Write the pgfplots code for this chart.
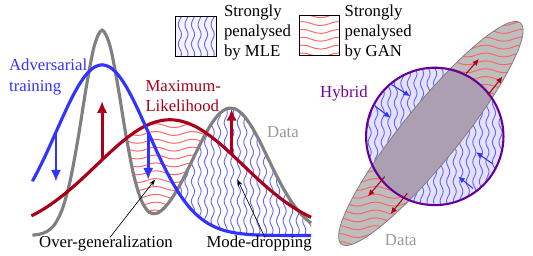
\documentclass[border=0pt]{standalone}
\usepackage{pgfplots}
\pgfplotsset{compat=1.18}
\usepgfplotslibrary{fillbetween}
\usetikzlibrary{arrows.meta,patterns}
\usepackage{fontspec}
\setmainfont{Liberation Serif}
\definecolor{cgray}{RGB}{128,128,128}
\definecolor{cblue}{RGB}{51,51,255}
\definecolor{cred}{RGB}{170,0,24}
\definecolor{hred}{RGB}{255,100,100}
\definecolor{hblue}{RGB}{100,100,255}
\definecolor{cpurple}{RGB}{100,0,150}
\definecolor{tpurple}{RGB}{119,0,153}
\definecolor{egray}{RGB}{190,190,190}
\definecolor{inter}{RGB}{171,159,177}
\definecolor{lav}{RGB}{228,225,252}
\pgfdeclarepatternformonly{wavesH}{\pgfqpoint{-1pt}{-1pt}}{\pgfqpoint{29pt}{7pt}}{\pgfqpoint{28pt}{6pt}}{%
  \pgfsetlinewidth{0.75pt}%
  \pgfpathmoveto{\pgfqpoint{0pt}{3pt}}%
  \pgfpathcurveto{\pgfqpoint{4.67pt}{5pt}}{\pgfqpoint{9.33pt}{5pt}}{\pgfqpoint{14pt}{3pt}}%
  \pgfpathcurveto{\pgfqpoint{18.67pt}{1pt}}{\pgfqpoint{23.33pt}{1pt}}{\pgfqpoint{28pt}{3pt}}%
  \pgfusepath{stroke}}
\pgfdeclarepatternformonly{wavesV}{\pgfqpoint{-1pt}{-1pt}}{\pgfqpoint{6pt}{16pt}}{\pgfqpoint{5pt}{15pt}}{%
  \pgfsetlinewidth{0.7pt}%
  \pgfpathmoveto{\pgfqpoint{2.5pt}{0pt}}%
  \pgfpathcurveto{\pgfqpoint{4.1pt}{2.5pt}}{\pgfqpoint{4.1pt}{5pt}}{\pgfqpoint{2.5pt}{7.5pt}}%
  \pgfpathcurveto{\pgfqpoint{0.9pt}{10pt}}{\pgfqpoint{0.9pt}{12.5pt}}{\pgfqpoint{2.5pt}{15pt}}%
  \pgfusepath{stroke}}
\begin{document}
\fontsize{12.8pt}{15.4pt}\selectfont
\begin{tikzpicture}
\begin{axis}[x=0.75pt,y=0.75pt,xmin=0,xmax=533,ymin=0,ymax=260,
  hide axis,clip=false,scale only axis]
\path (axis cs:0,0) rectangle (axis cs:533,260);
% data curves
\addplot[name path=gray,draw=none,forget plot] coordinates {
(33,20.4)(40,21.3)(48,24.2)(56,31.7)(64,48.3)(72,78.1)(80,121.7)(88,171.8)(96,213.1)(104,229.3)
(112,213.6)(120,173.1)(128,124.2)(136,82.5)(144,55.7)(152,43.7)(160,42.7)(168,48.8)(176,59.2)
(184,72.8)(192,88.5)(200,105.1)(208,121.0)(216,134.7)(224,144.7)(232,149.6)(240,148.9)(248,142.6)
(256,131.6)(264,117.2)(272,100.9)(280,84.5)(288,69.2)(296,55.9)(304,45.0)(312,36.7)(317,32.7)};
\addplot[name path=blue,draw=none,forget plot] coordinates {
(33,75.3)(40,88.6)(48,105.3)(56,123.1)(64,140.9)(72,157.9)(80,172.7)(88,184.2)(96,191.5)(104,194)
(112,191.5)(120,184.2)(128,172.7)(136,157.9)(144,140.9)(152,123.1)(160,105.3)(168,88.6)(176,73.6)
(184,60.6)(192,49.9)(200,41.4)(208,34.9)(216,30.1)(224,26.6)(232,24.2)(240,22.6)(248,21.6)
(256,20.9)(264,20.5)(272,20.3)(280,20.2)(288,20.1)(296,20.0)(304,20.0)(312,20.0)(317,20.0)};
\addplot[name path=red,draw=none,forget plot] coordinates {
(32,40.0)(40,44.3)(48,49.2)(56,54.8)(64,60.9)(72,67.5)(80,74.5)(88,81.9)(96,89.5)(104,97.1)
(112,104.6)(120,111.8)(128,118.5)(136,124.4)(144,129.5)(152,133.4)(160,136.2)(168,137.7)(176,137.9)
(184,136.7)(192,134.3)(200,130.6)(208,125.8)(216,120.0)(224,113.6)(232,106.5)(240,99.0)(248,91.4)
(256,83.8)(264,76.3)(272,69.2)(280,62.5)(288,56.2)(296,50.6)(304,45.5)(312,41.0)(317,38.6)};
% hatched regions
\addplot[pattern=wavesH,pattern color=hred,draw=none,forget plot]
  fill between[of=red and gray,soft clip={domain=129:210}];
\addplot[pattern=wavesV,pattern color=hblue,draw=none,forget plot]
  fill between[of=gray and blue,soft clip={domain=180:317}];
% visible curves
\addplot[cgray,line width=2.4pt,smooth] coordinates {
(33,20.4)(40,21.3)(48,24.2)(56,31.7)(64,48.3)(72,78.1)(80,121.7)(88,171.8)(96,213.1)(104,229.3)
(112,213.6)(120,173.1)(128,124.2)(136,82.5)(144,55.7)(152,43.7)(160,42.7)(168,48.8)(176,59.2)
(184,72.8)(192,88.5)(200,105.1)(208,121.0)(216,134.7)(224,144.7)(232,149.6)(240,148.9)(248,142.6)
(256,131.6)(264,117.2)(272,100.9)(280,84.5)(288,69.2)(296,55.9)(304,45.0)(312,36.7)(317,32.7)};
\addplot[cred,line width=2.4pt,smooth] coordinates {
(32,40.0)(40,44.3)(48,49.2)(56,54.8)(64,60.9)(72,67.5)(80,74.5)(88,81.9)(96,89.5)(104,97.1)
(112,104.6)(120,111.8)(128,118.5)(136,124.4)(144,129.5)(152,133.4)(160,136.2)(168,137.7)(176,137.9)
(184,136.7)(192,134.3)(200,130.6)(208,125.8)(216,120.0)(224,113.6)(232,106.5)(240,99.0)(248,91.4)
(256,83.8)(264,76.3)(272,69.2)(280,62.5)(288,56.2)(296,50.6)(304,45.5)(312,41.0)(317,38.6)};
\addplot[cblue,line width=2.4pt,smooth] coordinates {
(33,75.3)(40,88.6)(48,105.3)(56,123.1)(64,140.9)(72,157.9)(80,172.7)(88,184.2)(96,191.5)(104,194)
(112,191.5)(120,184.2)(128,172.7)(136,157.9)(144,140.9)(152,123.1)(160,105.3)(168,88.6)(176,73.6)
(184,60.6)(192,49.9)(200,41.4)(208,34.9)(216,30.1)(224,26.6)(232,24.2)(240,22.6)(248,21.6)
(256,20.9)(264,20.5)(272,20.3)(280,20.2)(288,20.1)(296,20.0)(304,20.0)(312,20.0)(317,20.0)};
% arrows
\addplot[cblue,line width=2.2pt,-{Latex[length=9pt,width=8pt]}] coordinates {(57,125)(57,75)};
\addplot[cblue,line width=2.2pt,-{Latex[length=9pt,width=8pt]}] coordinates {(151,125)(151,77)};
\addplot[cred,line width=2.2pt,-{Latex[length=9pt,width=8pt]}] coordinates {(104,97)(104,157)};
\addplot[cred,line width=2.2pt,-{Latex[length=9pt,width=8pt]}] coordinates {(236,103)(236,149)};
\addplot[black,line width=0.5pt,-{Stealth[length=5pt,width=3.5pt]}] coordinates {(112,18)(158,77)};
\addplot[black,line width=0.5pt,-{Stealth[length=5pt,width=3.5pt]}] coordinates {(270,18)(242,77)};
% labels
\node[anchor=west,align=left,text=cblue,inner sep=0pt] at (axis cs:9,181.5) {Adversarial\\training};
\node[anchor=west,align=left,text=cred,inner sep=0pt] at (axis cs:148,162.5) {Maximum-\\Likelihood};
\node[anchor=west,text=gray!80,inner sep=0pt] at (axis cs:272,125) {Data};
\node[anchor=center,inner sep=0pt] at (axis cs:108,12) {Over-generalization};
\node[anchor=center,inner sep=0pt] at (axis cs:264,12) {Mode-dropping};
% legend
\fill[lav!40] (axis cs:179,203) rectangle (axis cs:220,243);
\fill[pattern=wavesV,pattern color=hblue] (axis cs:179,203) rectangle (axis cs:220,243);
\draw[line width=0.6pt] (axis cs:179,203) rectangle (axis cs:220,243);
\node[anchor=west,align=left,inner sep=0pt] at (axis cs:228,227) {Strongly\\penalysed\\by MLE};
\fill[pattern=wavesH,pattern color=hred] (axis cs:305,204) rectangle (axis cs:346,244);
\draw[line width=0.6pt] (axis cs:305,204) rectangle (axis cs:346,244);
\node[anchor=west,align=left,inner sep=0pt] at (axis cs:351,227) {Strongly\\penalysed\\by GAN};
% right panel
\fill[egray] (axis cs:439,124) ellipse [x radius=145,y radius=29,rotate=51];
\fill[pattern=wavesH,pattern color=hred] (axis cs:439,124) ellipse [x radius=145,y radius=29,rotate=51];
\fill[lav] (axis cs:443,121) circle [radius=70];
\fill[pattern=wavesV,pattern color=hblue] (axis cs:443,121) circle [radius=70];
\begin{scope}
\clip (axis cs:443,121) circle [radius=70];
\fill[inter] (axis cs:439,124) ellipse [x radius=145,y radius=29,rotate=51];
\end{scope}
\draw[cgray,line width=0.6pt] (axis cs:439,124) ellipse [x radius=145,y radius=29,rotate=51];
\draw[cpurple,line width=1.6pt] (axis cs:443,121) circle [radius=70];
\addplot[cred,line width=0.8pt,-{Latex[length=5pt,width=4.5pt]}] coordinates {(475,185)(488,200)};
\addplot[cred,line width=0.8pt,-{Latex[length=5pt,width=4.5pt]}] coordinates {(497,163)(512,182)};
\addplot[cred,line width=0.8pt,-{Latex[length=5pt,width=4.5pt]}] coordinates {(392,80)(375,60)};
\addplot[cred,line width=0.8pt,-{Latex[length=5pt,width=4.5pt]}] coordinates {(415,63)(398,42)};
\addplot[cblue,line width=0.8pt,-{Latex[length=5pt,width=4.5pt]}] coordinates {(397,175)(418,162)};
\addplot[cblue,line width=0.8pt,-{Latex[length=5pt,width=4.5pt]}] coordinates {(382,152)(398,140)};
\addplot[cblue,line width=0.8pt,-{Latex[length=5pt,width=4.5pt]}] coordinates {(502,93)(485,105)};
\addplot[cblue,line width=0.8pt,-{Latex[length=5pt,width=4.5pt]}] coordinates {(482,68)(467,80)};
\node[anchor=west,text=tpurple,inner sep=0pt] at (axis cs:326,165) {Hybrid};
\node[anchor=west,text=gray!80,inner sep=0pt] at (axis cs:392,15) {Data};
\end{axis}
\end{tikzpicture}
\end{document}
